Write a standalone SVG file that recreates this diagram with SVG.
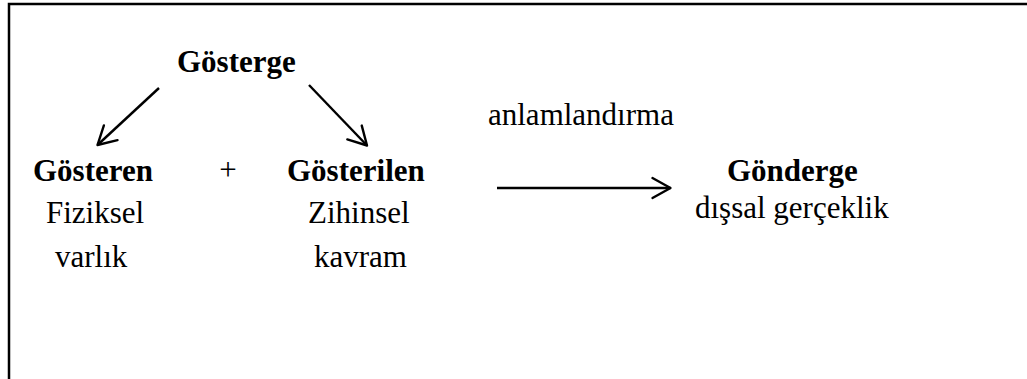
<svg xmlns="http://www.w3.org/2000/svg" width="1027" height="379" viewBox="0 0 1027 379">
  <style>
    text { font-family: "Liberation Serif", "Times New Roman", serif; font-size: 31px; fill: #000; }
    .b { font-weight: bold; }
    .conn { stroke: #000; stroke-width: 2.4; fill: none; }
  </style>
  <defs>
    <marker id="ah" markerUnits="userSpaceOnUse" markerWidth="24" markerHeight="24" refX="20" refY="12" orient="auto" overflow="visible">
      <path d="M2,2 L20,12 L2,22" fill="none" stroke="#000" stroke-width="2.4" stroke-linejoin="round" stroke-linecap="round"/>
    </marker>
  </defs>
  <rect width="1027" height="379" fill="#fff"/>
  <!-- frame: top and left edges -->
  <path d="M9,379 V4 H1027" fill="none" stroke="#000" stroke-width="2.5"/>

  <g id="gosterge"><text class="b" x="177" y="72">Gösterge</text></g>
  <g id="gosteren">
    <text class="b" x="33" y="181">Gösteren</text>
    <text x="46" y="223">Fiziksel</text>
    <text x="55" y="267">varlık</text>
  </g>
  <g id="plus"><text x="228" y="180" text-anchor="middle">+</text></g>
  <g id="gosterilen">
    <text class="b" x="287" y="181">Gösterilen</text>
    <text x="308" y="223">Zihinsel</text>
    <text x="314" y="267">kavram</text>
  </g>
  <g id="gonderge">
    <text class="b" x="727" y="181">Gönderge</text>
    <text x="695" y="218">dışsal gerçeklik</text>
  </g>
  <g id="label-anlamlandirma"><text x="488" y="125">anlamlandırma</text></g>

  <g id="connectors">
    <line class="conn" x1="159" y1="88" x2="97.5" y2="145" marker-end="url(#ah)"/>
    <line class="conn" x1="309" y1="85" x2="367" y2="145.5" marker-end="url(#ah)"/>
    <line class="conn" x1="497" y1="188" x2="670.5" y2="188" marker-end="url(#ah)"/>
  </g>
</svg>
